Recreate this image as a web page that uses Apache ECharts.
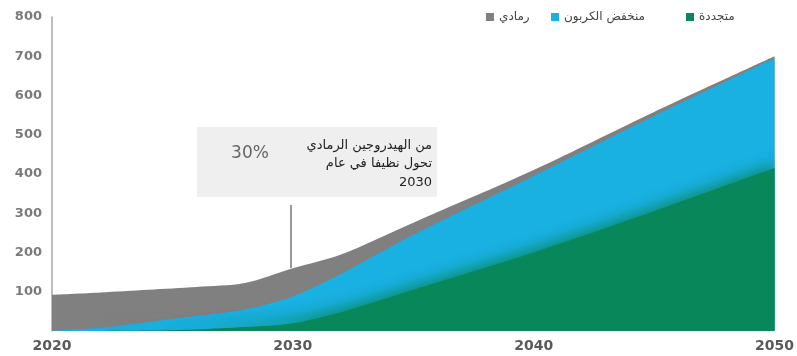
<!DOCTYPE html>
<html>
<head>
<meta charset="utf-8">
<script src="https://cdn.jsdelivr.net/npm/echarts@6/dist/echarts.min.js"></script>
<style>html,body{margin:0;padding:0;background:#fff}#c{width:797px;height:356px}</style>
</head>
<body>
<div id="c"></div>
<script>
var years = [2020, 2022, 2024, 2026, 2028, 2030, 2032, 2035, 2040, 2045, 2050];
var renewable = [0, 0, 1, 4, 10, 20, 48, 105, 200, 305, 415];
var lowCarbon = [0, 8, 22, 34, 45, 68, 97, 140, 195, 243, 280];
var grey = [92, 90, 82, 74, 67, 72, 50, 31, 15, 10, 5];
var xTicks = [2020, 2030, 2040, 2050];
var yTicks = [100, 200, 300, 400, 500, 600, 700, 800];
var names = ['متجددة', 'منخفض الكربون', 'رمادي'];
var noteLines = ['من الهيدروجين الرمادي', 'تحول نظيفا في عام', '2030'];
var notePct = '30%';

// cumulative tops for layered areas
var cumGreen = years.map(function (y, i) { return [y, renewable[i]]; });
var cumBlue = years.map(function (y, i) { return [y, renewable[i] + lowCarbon[i]]; });
var cumGrey = years.map(function (y, i) { return [y, renewable[i] + lowCarbon[i] + grey[i]]; });

var chart = echarts.init(document.getElementById('c'), null, { renderer: 'canvas' });
var legendBase = {
  top: 6, icon: 'rect', itemWidth: 8, itemHeight: 8, itemGap: 4,
  textStyle: { fontFamily: 'DejaVu Sans', fontSize: 12, color: '#444' },
  selectedMode: false
};
function area(name, data, color, z, extra) {
  return { name: name, type: 'line', data: data, showSymbol: false, smooth: 0.3, z: z, clip: true,
    lineStyle: { width: 0 }, itemStyle: { color: color },
    areaStyle: Object.assign({ color: color, opacity: 1 }, extra || {}) };
}
chart.setOption({
  animation: false,
  grid: { left: 52, right: 18, top: 17, bottom: 25 },
  legend: [
    Object.assign({}, legendBase, { left: 481, data: [names[2]] }),
    Object.assign({}, legendBase, { left: 546, data: [names[1]] }),
    Object.assign({}, legendBase, { left: 681, data: [names[0]] })
  ],
  xAxis: {
    type: 'value', min: 2020, max: 2050, interval: 10,
    axisLine: { show: false }, axisTick: { show: false }, splitLine: { show: false },
    axisLabel: {
      margin: 8, color: '#5a5a5a', fontFamily: 'DejaVu Sans', fontSize: 14, fontWeight: 'bold',
      formatter: function (v) { return xTicks.indexOf(v) >= 0 ? String(v) : ''; }
    }
  },
  yAxis: {
    type: 'value', min: 0, max: 800, interval: 100,
    axisLine: { show: true, lineStyle: { color: '#a6a6a6', width: 1.5 } },
    axisTick: { show: false }, splitLine: { show: false },
    axisLabel: {
      margin: 10, color: '#7a7a7a', fontFamily: 'DejaVu Sans', fontSize: 13, fontWeight: 'bold',
      formatter: function (v) { return yTicks.indexOf(v) >= 0 ? String(v) : ''; }
    }
  },
  series: [
    area(names[2], cumGrey, '#808080', 2),
    area(names[1], cumBlue, '#19b0e2', 3),
    area(names[0], cumGreen, '#07875a', 4, { shadowBlur: 14, shadowOffsetY: -4, shadowColor: 'rgba(7,135,90,0.85)' })
  ],
  graphic: [
    { type: 'rect', shape: { x: 197, y: 127, width: 240, height: 70 }, style: { fill: '#efefef' }, z: 10 },
    { type: 'text', x: 250, y: 154, z: 11, style: { text: notePct, fontFamily: 'DejaVu Sans', fontSize: 17, fill: '#666', align: 'center', verticalAlign: 'middle' } },
    { type: 'text', x: 432, y: 146, z: 11, style: { text: noteLines[0], fontFamily: 'DejaVu Sans', fontSize: 13, fill: '#222', align: 'right', verticalAlign: 'middle' } },
    { type: 'text', x: 432, y: 164, z: 11, style: { text: noteLines[1], fontFamily: 'DejaVu Sans', fontSize: 13, fill: '#222', align: 'right', verticalAlign: 'middle' } },
    { type: 'text', x: 432, y: 183, z: 11, style: { text: noteLines[2], fontFamily: 'DejaVu Sans', fontSize: 13, fill: '#222', align: 'right', verticalAlign: 'middle' } },
    { type: 'line', shape: { x1: 291, y1: 205, x2: 291, y2: 268 }, style: { stroke: '#777', lineWidth: 1.5 }, z: 11 }
  ]
});
</script>
</body>
</html>
